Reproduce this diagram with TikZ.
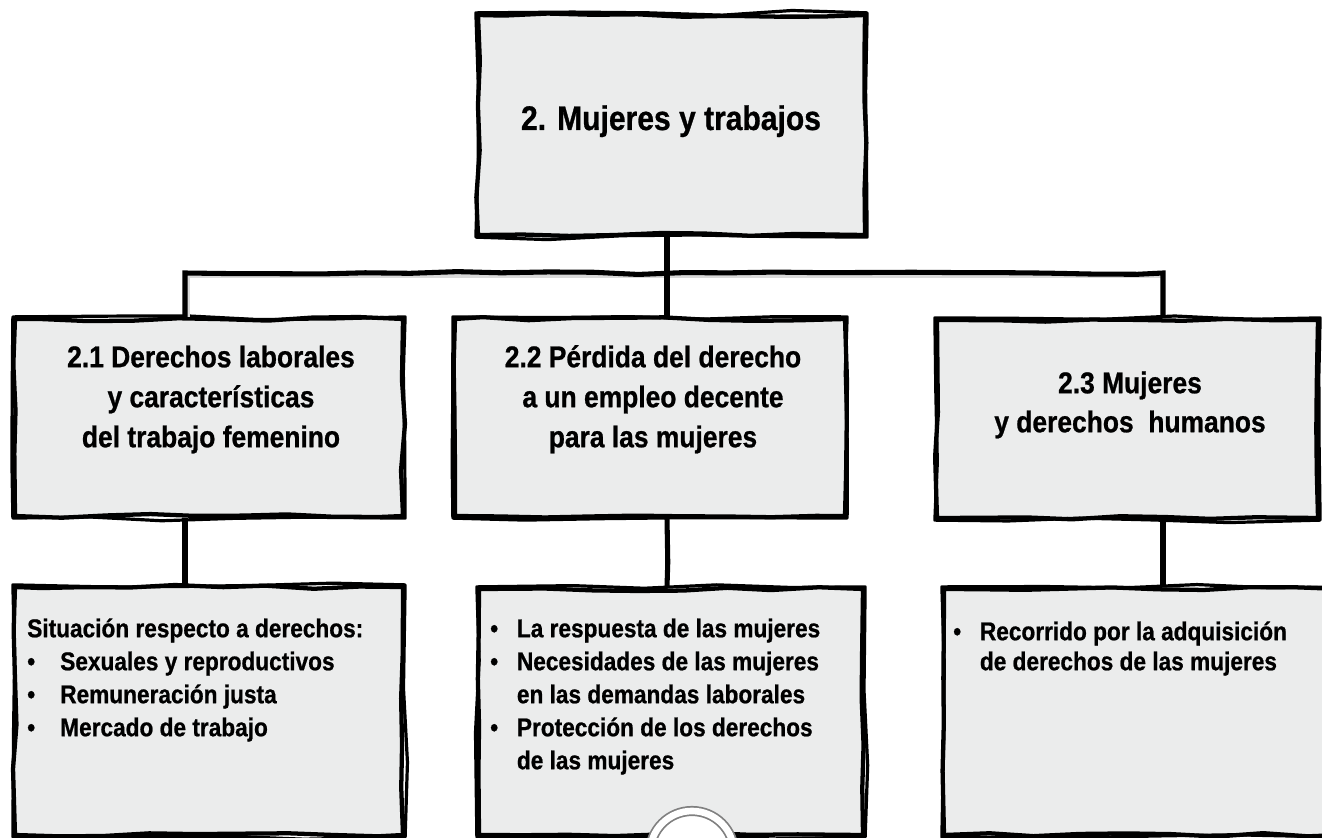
\documentclass[tikz,border=0pt]{standalone}
\usepackage{fontspec}
\setmainfont{Liberation Sans}[FakeStretch=0.88,FakeBold=0.8]
\usetikzlibrary{decorations.pathmorphing,fit}
\definecolor{boxgray}{RGB}{235,236,236}
\newcommand\bulA{\makebox[24.75pt][l]{•}}
\newcommand\bulB{\makebox[20pt][l]{•}}
\newcommand\indB{\hspace*{20pt}}
\newcommand\tstrut{\rule{0pt}{20pt}}
\begin{document}
\begin{tikzpicture}[x=0.75pt,y=-0.75pt,
  rough/.style={decorate,decoration={random steps,segment length=34pt,amplitude=1.5pt}},
  box/.style={rectangle,inner sep=0pt,fill=boxgray,draw=black,line width=3.2pt,line join=round,rough},
  edgetwo/.style={draw=black,line width=2.4pt,line join=round,decorate,decoration={random steps,segment length=55pt,amplitude=2pt}},
  conn/.style={draw=black,line width=3.8pt,line join=miter,decorate,decoration={random steps,segment length=34pt,amplitude=1.2pt}},
  shade/.style={draw=black!15,line width=3pt},
  head/.style={font=\bfseries\fontsize{22.5}{30}\selectfont,align=center,anchor=north,inner sep=0pt},
  body/.style={font=\bfseries\fontsize{19.3}{24.75}\selectfont,align=left,anchor=north west,inner sep=0pt}
]
\pgfmathsetseed{7}
\useasboundingbox (0,0) rectangle (1322,838);
\clip (0,0) rectangle (1322,838);
\fill[white] (0,0) rectangle (1322,838);

% boxes
\node[box,fit={(478,15) (865,235)}] (top) {};
\node[box,fit={(15,319) (403,516)}] (b1) {};
\node[box,fit={(455,319) (845,516)}] (b2) {};
\node[box,fit={(937,320) (1318,518)}] (b3) {};
\node[box,fit={(15,587) (403,835)}] (c1) {};
\node[box,fit={(479,589) (863,835)}] (c2) {};
\node[box,fit={(944,589) (1340,835)}] (c3) {};
\foreach \n in {top,b1,b2,b3,c1,c2,c3}
  \draw[edgetwo] (\n.north west) rectangle (\n.south east);

% connectors
\coordinate (busL) at (185,273);
\coordinate (busM) at (667,273);
\coordinate (busR) at (1163,273);
\draw[shade] ([xshift=2pt]busL |- b1.north) -- ([xshift=2pt,yshift=-2pt]busL) -- ([yshift=-2pt]busR);
\draw[conn] (top.south -| busM) -- (busM);
\draw[conn] (busL |- b1.north) -- (busL) -- (busR) -- (busR |- b3.north);
\draw[conn] (busM) -- (busM |- b2.north);
\draw[conn] (b1.south -| busL) -- (c1.north -| busL);
\draw[conn] (b2.south -| busM) -- (c2.north -| busM);
\draw[conn] (b3.south -| busR) -- (c3.north -| busR);

% texts
\node[font=\bfseries\fontsize{25.6}{30}\selectfont,anchor=base,inner sep=0pt] (ttl) at (671,130) {2. Mujeres y trabajos};
\node[head] (h1) at (211,340.3) {\tstrut 2.1 Derechos laborales\\y características\\del trabajo femenino};
\node[head] (h2) at (653,340.3) {\tstrut 2.2 Pérdida del derecho\\a un empleo decente\\para las mujeres};
\node[head,font=\bfseries\fontsize{22.5}{29.25}\selectfont] (h3) at (1130,366.3) {\tstrut 2.3 Mujeres\\y derechos~ humanos};

\node[body] (l1) at (27,610.3) {\tstrut Situación respecto a derechos:\\\bulA Sexuales y reproductivos\\\bulA Remuneración justa\\\bulA Mercado de trabajo};
\node[body] (l2) at (490,610.3) {\tstrut\bulB La respuesta de las mujeres\\\bulB Necesidades de las mujeres\\\indB en las demandas laborales\\\bulB Protección de los derechos\\\indB de las mujeres};
\node[body,font=\bfseries\fontsize{19.3}{22.5}\selectfont] (l3) at (953,613.3) {\tstrut\bulB Recorrido por la adquisición\\\indB de derechos de las mujeres};

% page circle
\node[circle,draw=black!50,double=white,double distance=5pt,line width=1.3pt,fill=white,minimum size=63pt,inner sep=0pt] (pg) at (692,853) {};
\end{tikzpicture}
\end{document}
